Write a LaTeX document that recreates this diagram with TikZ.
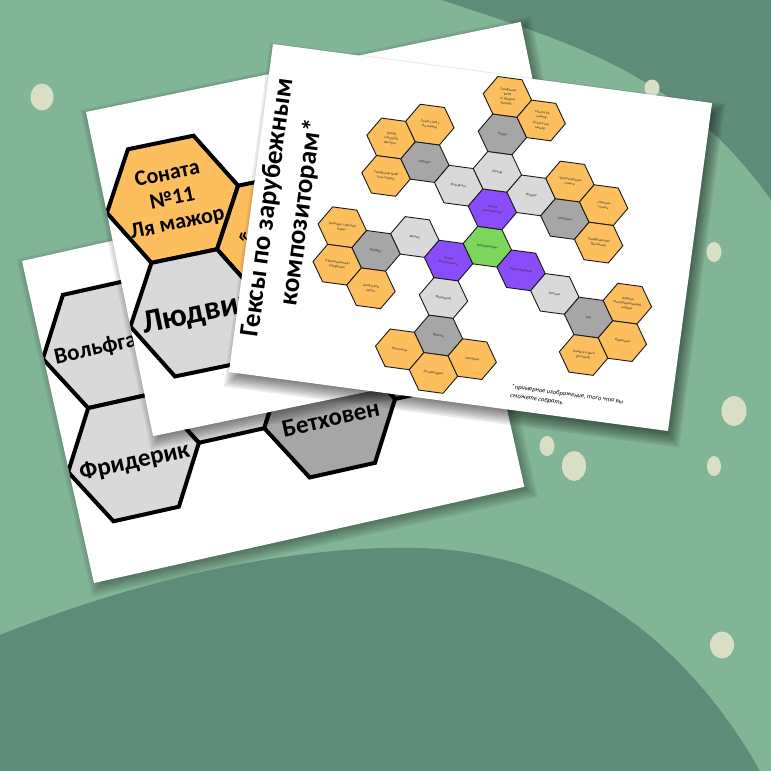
\documentclass[tikz,border=0pt]{standalone}
\usepackage{fontspec}
\setmainfont{Carlito}
\definecolor{bgl}{HTML}{82B496}
\definecolor{bgd}{HTML}{5E8C78}
\definecolor{bub}{HTML}{DADEC4}
\definecolor{horange}{HTML}{FDBF5E}
\definecolor{hlight}{HTML}{D9D9D9}
\definecolor{hdark}{HTML}{A6A6A6}
\definecolor{hpurple}{HTML}{8A4DFB}
\definecolor{hgreen}{HTML}{7BD65B}
\tikzset{
  bighex/.style={draw=black, line width=4pt, line join=miter},
  smallhex/.style={draw=black!90, line width=0.9pt, line join=miter},
  hexlabel/.style={font=\fontsize{3.6}{4.6}\selectfont, text=black!80, align=center, inner sep=0pt},
  biglabel/.style={font=\fontsize{25}{28}\selectfont\bfseries, align=center, inner sep=0pt},
  midlabel/.style={font=\fontsize{22}{25}\selectfont\bfseries, align=center, inner sep=0pt},
  hugelabel/.style={font=\fontsize{33}{36}\selectfont\bfseries, align=center, inner sep=0pt},
  titlelabel/.style={font=\fontsize{27}{30}\selectfont\bfseries, inner sep=0pt},
  footlabel/.style={font=\fontsize{6.5}{9}\selectfont\itshape, align=left, inner sep=0pt},
  bubble/.style={fill=bub},
}
\newcommand{\HexPath}[5]{%
  \path[#1, shift={(#2,#3)}] (-#4,0) -- ({-#4/2},-#5) -- ({#4/2},-#5) -- (#4,0) -- ({#4/2},#5) -- ({-#4/2},#5) -- cycle;}
\newcommand{\SmallHex}[5]{%
  \pgfmathsetmacro{\hcx}{239.4+36.6*(#2)}%
  \pgfmathsetmacro{\hcy}{172.4+37.8*(#3)+18.9*(#2)}%
  \HexPath{smallhex,fill=#4}{\hcx}{\hcy}{24.4}{18.9}
  \node[hexlabel] (#1) at (\hcx,\hcy) {#5};}
\newcommand{\SheetShadow}[5]{%
  \foreach \e in {8,6,4,2,0,-2,-4,-6}{%
    \fill[black,opacity=#5] ({#3-\e},{#4-\e}) rectangle ({#1+#3+\e},{#2+#4+\e});}}
\begin{document}
\begin{tikzpicture}[x=1pt,y=-1pt]
\useasboundingbox (0,0) rectangle (771,771);
\clip (0,0) rectangle (771,771);
% background
\fill[bgl] (0,0) rectangle (771,771);
\fill[bgd] (442,0) .. controls (560,40) and (680,70) .. (771,200) -- (771,0) -- cycle;
\fill[bgd] (0,635) .. controls (150,575) and (300,545) .. (420,548)
  .. controls (560,552) and (680,630) .. (760,771) -- (0,771) -- cycle;
% bubbles
\fill[bubble] (42,97) ellipse [x radius=11.5, y radius=13.5];
\fill[bubble] (652,88) ellipse [x radius=7.5, y radius=8.5];
\fill[bubble] (714,252) ellipse [x radius=7.5, y radius=10];
\fill[bubble] (734,411) ellipse [x radius=12.5, y radius=15];
\fill[bubble] (547,446) ellipse [x radius=7.5, y radius=10];
\fill[bubble] (574,466) ellipse [x radius=12, y radius=15];
\fill[bubble] (714,466) ellipse [x radius=7, y radius=10];
\fill[bubble] (722,645) ellipse [x radius=12, y radius=13.5];

% ---------- sheet A (back) ----------
\begin{scope}[shift={(22,261)}, rotate=12.6, transform shape]
  \SheetShadow{441}{330}{3}{5}{0.06}
  \fill[white] (0,0) rectangle (441,330);
  \begin{scope}
    \clip (0,0) rectangle (441,330);
    \HexPath{bighex,fill=hlight}{166.5}{158}{67}{58}
    \HexPath{bighex,fill=hlight}{367.5}{158}{67}{58}
    \HexPath{bighex,fill=hlight}{66}{100}{67}{58}
    \HexPath{bighex,fill=hlight}{66}{216}{67}{58}
    \HexPath{bighex,fill=hdark}{267}{216}{67}{58}
    \node[biglabel, font=\fontsize{23}{26}\selectfont\bfseries] (aWolf) at (63,102) {Вольфганг};
    \node[biglabel] (aFred) at (66,221) {Фридерик};
    \node[biglabel] (aBeet) at (267,221) {Бетховен};
  \end{scope}
\end{scope}

% ---------- sheet B (middle) ----------
\begin{scope}[shift={(86,112)}, rotate=11.7, transform shape]
  \SheetShadow{444}{331}{3}{5}{0.07}
  \fill[white] (0,0) rectangle (444,331);
  \begin{scope}
    \clip (0,0) rectangle (444,331);
    \HexPath{bighex,fill=horange}{67}{103}{67}{58}
    \HexPath{bighex,fill=horange}{167.5}{161}{67}{58}
    \HexPath{bighex,fill=hlight}{67}{219}{67}{58}
    \node[midlabel] (bSon) at (67,103) {Соната\\№11\\Ля мажор};
    \node[midlabel] (bMoon) at (170,165) {«Лунная»\\соната};
    \node[hugelabel] (bLud) at (67,221) {Людвиг};
  \end{scope}
\end{scope}

% ---------- sheet C (front) ----------
\begin{scope}[shift={(273,44)}, rotate=-7.65, transform shape]
  \SheetShadow{443}{331}{5}{7}{0.08}
  \fill[white] (0,0) rectangle (443,331);
  \node[titlelabel, rotate=90] (t1) at (17,163) {Гексы по зарубежным};
  \node[titlelabel, rotate=90] (t2) at (51,163) {композиторам*};
  \SmallHex{hcomp}{0}{0}{hgreen}{Композиторы}
  \SmallHex{hclass}{0}{-1}{hpurple}{Эпоха\\классицизма}
  \SmallHex{hroman}{-1}{1}{hpurple}{Эпоха\\Романтизма}
  \SmallHex{hbaroque}{1}{0}{hpurple}{Эпоха барокко}
  \SmallHex{hjoseph}{0}{-2}{hlight}{Йозеф}
  \SmallHex{hhaydn}{0}{-3}{hdark}{Гайдн}
  \SmallHex{hhaydnA}{0}{-4}{horange}{Симфония\\№94\\«С ударом\\литавр»}
  \SmallHex{hhaydnB}{1}{-4}{horange}{Соната Ре\\мажор\\[2pt]Соната ми\\минор}
  \SmallHex{hwolf}{-1}{-1}{hlight}{Вольфганг}
  \SmallHex{hmozart}{-2}{-1}{hdark}{Моцарт}
  \SmallHex{hmozA}{-3}{-1}{horange}{Опера\\«Свадьба\\Фигаро»}
  \SmallHex{hmozB}{-2}{-2}{horange}{Соната №11\\Ля мажор}
  \SmallHex{hmozC}{-3}{0}{horange}{Симфония №40\\соль минор}
  \SmallHex{hludwig}{1}{-2}{hlight}{Людвиг}
  \SmallHex{hbeet}{2}{-2}{hdark}{Бетховен}
  \SmallHex{hbeetA}{2}{-3}{horange}{«Патетическая»\\соната}
  \SmallHex{hbeetB}{3}{-3}{horange}{«Лунная»\\соната}
  \SmallHex{hbeetC}{3}{-2}{horange}{Симфония №5\\До минор}
  \SmallHex{hfranz}{-2}{1}{hlight}{Франц}
  \SmallHex{hschub}{-3}{2}{hdark}{Шуберт}
  \SmallHex{hschA}{-4}{2}{horange}{Баллада «Лесной\\царь»}
  \SmallHex{hschB}{-4}{3}{horange}{«Неоконченная»\\симфония}
  \SmallHex{hschC}{-3}{3}{horange}{Более 600\\песен}
  \SmallHex{hfred}{-1}{2}{hlight}{Фридерик}
  \SmallHex{hchopin}{-1}{3}{hdark}{Шопен}
  \SmallHex{hchA}{-2}{4}{horange}{Полонезы}
  \SmallHex{hchB}{-1}{4}{horange}{24 прелюдии}
  \SmallHex{hchC}{0}{3}{horange}{Мазурки}
  \SmallHex{hjohann}{2}{0}{hlight}{Иоганн}
  \SmallHex{hbach}{3}{0}{hdark}{Бах}
  \SmallHex{hbachA}{4}{-1}{horange}{Хорошо\\темперированный\\клавир}
  \SmallHex{hbachB}{4}{0}{horange}{Инвенции}
  \SmallHex{hbachC}{3}{1}{horange}{Токката и фуга\\ре минор}
  \node[footlabel, anchor=north west] (foot) at (282,305) {*примерное изображение, того что вы\\сможете собрать};
\end{scope}
\end{tikzpicture}
\end{document}
